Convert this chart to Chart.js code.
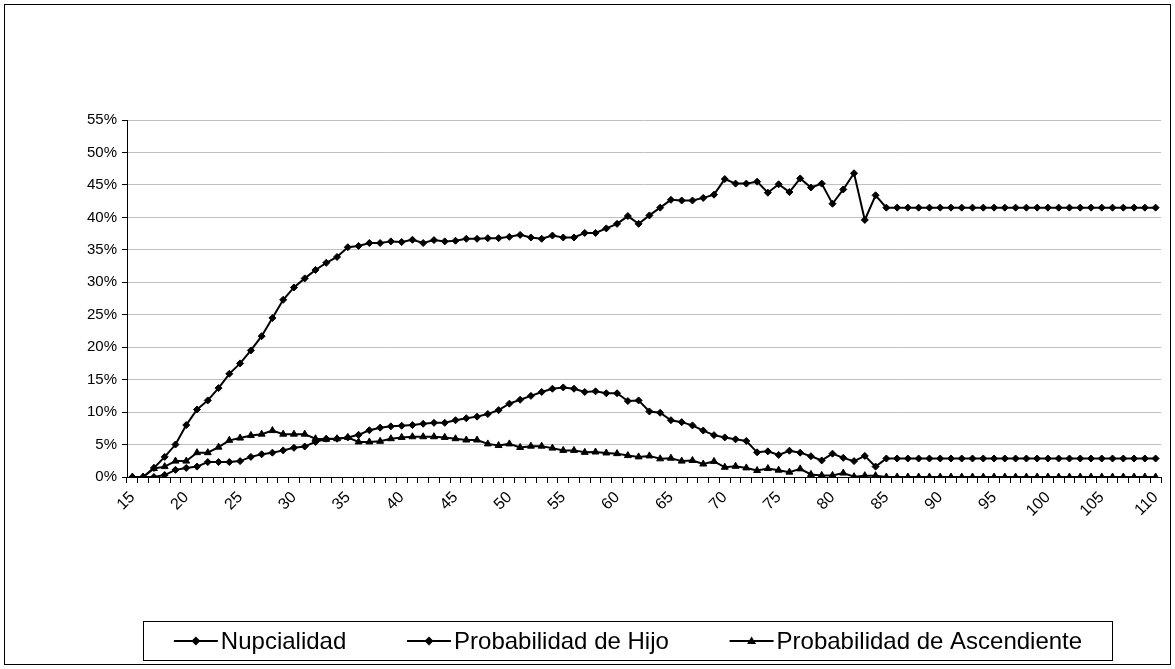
<!DOCTYPE html>
<html>
<head>
<meta charset="utf-8">
<script src="https://cdn.jsdelivr.net/npm/chart.js@4.4.1/dist/chart.umd.min.js"></script>
<style>
  html, body { margin: 0; padding: 0; background: #fff; }
  canvas { display: block; }
</style>
</head>
<body>
<canvas id="chart" width="1175" height="669"></canvas>
<script>
// Age categories (x axis)
const ages = [
  15, 16, 17, 18, 19, 20, 21, 22, 23, 24,
  25, 26, 27, 28, 29, 30, 31, 32, 33, 34,
  35, 36, 37, 38, 39, 40, 41, 42, 43, 44,
  45, 46, 47, 48, 49, 50, 51, 52, 53, 54,
  55, 56, 57, 58, 59, 60, 61, 62, 63, 64,
  65, 66, 67, 68, 69, 70, 71, 72, 73, 74,
  75, 76, 77, 78, 79, 80, 81, 82, 83, 84,
  85, 86, 87, 88, 89, 90, 91, 92, 93, 94,
  95, 96, 97, 98, 99, 100, 101, 102, 103, 104,
  105, 106, 107, 108, 109, 110
];

// Ages that carry a visible tick label
const shownTicks = [15, 20, 25, 30, 35, 40, 45, 50, 55, 60, 65, 70, 75, 80, 85, 90, 95, 100, 105, 110];

// Series values, in percent
const nupcialidad = [
  0, 0, 1.4, 3.1, 5.0, 8.0, 10.4, 11.8, 13.7, 15.9,
  17.5, 19.5, 21.7, 24.5, 27.3, 29.2, 30.6, 31.9, 33.0, 33.9,
  35.4, 35.6, 36.05, 36.05, 36.3, 36.2, 36.55, 36.05, 36.5, 36.3,
  36.4, 36.7, 36.7, 36.8, 36.8, 37.0, 37.3, 36.9, 36.7, 37.2,
  36.9, 36.9, 37.6, 37.6, 38.3, 39.0, 40.2, 39.0, 40.3, 41.5,
  42.7, 42.6, 42.6, 43.0, 43.5, 45.9, 45.2, 45.2, 45.5, 43.8,
  45.1, 43.9, 46.0, 44.6, 45.2, 42.1, 44.3, 46.8, 39.6, 43.4,
  41.5, 41.5, 41.5, 41.5, 41.5, 41.5, 41.5, 41.5, 41.5, 41.5,
  41.5, 41.5, 41.5, 41.5, 41.5, 41.5, 41.5, 41.5, 41.5, 41.5,
  41.5, 41.5, 41.5, 41.5, 41.5, 41.5
];

const probHijo = [
  0, 0, 0, 0.3, 1.1, 1.4, 1.6, 2.3, 2.3, 2.3,
  2.45, 3.1, 3.5, 3.75, 4.1, 4.5, 4.7, 5.4, 5.9, 5.9,
  6.1, 6.5, 7.2, 7.6, 7.8, 7.9, 8.0, 8.2, 8.35, 8.35,
  8.75, 9.05, 9.3, 9.7, 10.3, 11.3, 11.9, 12.5, 13.1, 13.6,
  13.8, 13.6, 13.1, 13.2, 12.9, 12.9, 11.7, 11.8, 10.1, 9.9,
  8.75, 8.45, 7.95, 7.15, 6.45, 6.1, 5.8, 5.55, 3.8, 3.95,
  3.4, 4.05, 3.75, 3.2, 2.55, 3.6, 2.95, 2.45, 3.25, 1.6,
  2.85, 2.85, 2.85, 2.85, 2.85, 2.85, 2.85, 2.85, 2.85, 2.85,
  2.85, 2.85, 2.85, 2.85, 2.85, 2.85, 2.85, 2.85, 2.85, 2.85,
  2.85, 2.85, 2.85, 2.85, 2.85, 2.85
];

const probAscendiente = [
  0, 0, 1.3, 1.6, 2.45, 2.45, 3.75, 3.75, 4.6, 5.65,
  6.0, 6.4, 6.6, 7.15, 6.6, 6.6, 6.6, 5.9, 5.8, 5.9,
  6.1, 5.4, 5.4, 5.5, 5.9, 6.1, 6.2, 6.2, 6.2, 6.1,
  5.9, 5.7, 5.7, 5.1, 4.85, 5.1, 4.55, 4.75, 4.75, 4.45,
  4.1, 4.1, 3.8, 3.85, 3.7, 3.6, 3.3, 3.1, 3.25, 2.8,
  2.9, 2.45, 2.55, 2.0, 2.4, 1.5, 1.65, 1.4, 1.0, 1.3,
  1.05, 0.75, 1.25, 0.4, 0.25, 0.25, 0.6, 0.05, 0.2, 0.2,
  0, 0, 0, 0, 0, 0, 0, 0, 0, 0,
  0, 0, 0, 0, 0, 0, 0, 0, 0, 0,
  0, 0, 0, 0, 0, 0
];

const seriesNames = ['Nupcialidad', 'Probabilidad de Hijo', 'Probabilidad de Ascendiente'];

const FONT = "'Liberation Sans', Arial, sans-serif";

function lineDataset(label, data, pointStyle, radius) {
  return {
    label: label,
    data: data,
    borderColor: '#000',
    backgroundColor: '#000',
    borderWidth: 2,
    pointStyle: pointStyle,
    pointRadius: radius,
    pointBorderWidth: 1,
    pointBackgroundColor: '#000',
    pointBorderColor: '#000',
    tension: 0,
    fill: false
  };
}

// Marker shapes for the legend samples
function drawMarker(ctx, style, x, y) {
  ctx.beginPath();
  if (style === 'triangle') {
    ctx.moveTo(x, y - 4.5);
    ctx.lineTo(x + 4.5, y + 3);
    ctx.lineTo(x - 4.5, y + 3);
  } else {
    ctx.moveTo(x, y - 4.5);
    ctx.lineTo(x + 4.5, y);
    ctx.lineTo(x, y + 4.5);
    ctx.lineTo(x - 4.5, y);
  }
  ctx.closePath();
  ctx.fill();
}

// White page, outer frame and the boxed legend under the plot
const framePlugin = {
  id: 'frame',
  beforeDraw(chart) {
    const ctx = chart.ctx;
    ctx.save();
    ctx.fillStyle = '#fff';
    ctx.fillRect(0, 0, chart.width, chart.height);
    ctx.restore();
  },
  afterDraw(chart) {
    const ctx = chart.ctx;
    ctx.save();
    ctx.strokeStyle = '#000';
    ctx.lineWidth = 1;
    ctx.strokeRect(4.5, 4.5, 1166, 660);

    const box = { x: 143.5, y: 621.5, w: 969, h: 39 };
    ctx.strokeRect(box.x, box.y, box.w, box.h);

    ctx.font = '24px ' + FONT;
    ctx.textBaseline = 'middle';
    ctx.textAlign = 'left';
    const sample = 44, gap = 3;
    const widths = chart.data.datasets.map(d => sample + gap + ctx.measureText(d.label).width);
    const total = widths.reduce((a, b) => a + b, 0);
    const space = (box.w - total) / widths.length;
    let x = box.x + space / 2;
    const cy = box.y + box.h / 2;
    chart.data.datasets.forEach((d, i) => {
      ctx.strokeStyle = '#000';
      ctx.fillStyle = '#000';
      ctx.lineWidth = 2;
      ctx.beginPath();
      ctx.moveTo(x, cy);
      ctx.lineTo(x + sample, cy);
      ctx.stroke();
      drawMarker(ctx, d.pointStyle, x + sample / 2, cy);
      ctx.fillText(d.label, x + sample + gap, cy + 1);
      x += widths[i] + space;
    });
    ctx.restore();
  }
};

new Chart(document.getElementById('chart').getContext('2d'), {
  type: 'line',
  data: {
    labels: ages,
    datasets: [
      lineDataset(seriesNames[0], nupcialidad, 'rectRot', 3.5),
      lineDataset(seriesNames[1], probHijo, 'rectRot', 3.5),
      lineDataset(seriesNames[2], probAscendiente, 'triangle', 4)
    ]
  },
  options: {
    responsive: false,
    animation: false,
    layout: { padding: { left: 67, right: 14, top: 120, bottom: 132 } },
    plugins: {
      legend: { display: false },
      tooltip: { enabled: false }
    },
    scales: {
      x: {
        type: 'category',
        offset: true,
        grid: {
          display: true,
          offset: true,
          drawOnChartArea: false,
          drawTicks: true,
          tickLength: 6,
          tickColor: '#000',
          color: '#000'
        },
        border: { display: true, color: '#000', width: 1 },
        ticks: {
          autoSkip: false,
          minRotation: 45,
          maxRotation: 45,
          padding: 5,
          color: '#000',
          font: { family: FONT, size: 16 },
          callback: function (value, index) {
            const age = ages[index];
            return shownTicks.includes(age) ? String(age) : '';
          }
        },
        afterFit: function (scale) { scale.height = 60; }
      },
      y: {
        min: 0,
        max: 55,
        grid: {
          color: '#c0c0c0',
          lineWidth: 1,
          tickColor: '#000',
          tickLength: 5
        },
        border: { display: true, color: '#000', width: 1 },
        ticks: {
          stepSize: 5,
          padding: 5,
          color: '#000',
          font: { family: FONT, size: 15 },
          callback: v => v + '%'
        },
        afterFit: function (scale) { scale.width = 60; }
      }
    }
  },
  plugins: [framePlugin]
});
</script>
</body>
</html>
